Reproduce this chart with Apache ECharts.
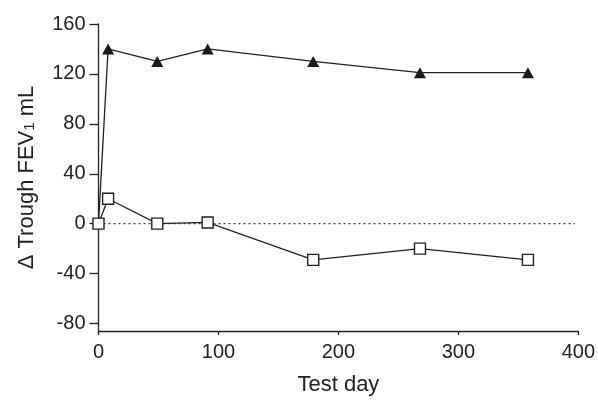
<!DOCTYPE html>
<html>
<head>
<meta charset="utf-8">
<script src="https://cdn.jsdelivr.net/npm/echarts@6/dist/echarts.min.js"></script>
<style>html,body{margin:0;padding:0;background:#fff}#c{width:598px;height:401px}</style>
</head>
<body>
<div id="c"></div>
<script>
var testDays = [0, 8, 49, 91, 179, 268, 358];
var triangleValues = [0, 140, 130, 140, 130, 121, 121];
var squareValues = [0, 20, 0, 1, -29, -20, -29];
var refLineDays = [0, 397];
var refLineValues = [0, 0];
var yTicks = [-80, -40, 0, 40, 80, 120, 160];
var xTicks = [0, 100, 200, 300, 400];

var FONT = '"Liberation Sans", Arial, sans-serif';
function pairs(xs, ys) { return xs.map(function (x, i) { return [x, ys[i]]; }); }

var chart = echarts.init(document.getElementById('c'), null, {renderer: 'canvas'});
chart.setOption({
  animation: false,
  backgroundColor: '#fff',
  grid: {left: 98.5, right: 18, top: 24, bottom: 68, containLabel: false},
  xAxis: {
    type: 'value', min: 0, max: 400, interval: 100,
    name: 'Test day', nameLocation: 'middle', nameGap: 43,
    nameTextStyle: {fontFamily: FONT, fontSize: 22, color: '#222'},
    axisLine: {show: true, onZero: false, lineStyle: {color: '#222', width: 1.3}},
    axisTick: {show: true, length: 4, lineStyle: {color: '#222', width: 1.3}},
    axisLabel: {fontFamily: FONT, fontSize: 20, color: '#222', margin: 11},
    splitLine: {show: false}
  },
  yAxis: {
    type: 'value', min: -86, max: 160,
    name: '{a|\u0394 Trough FEV}{s|1}{a| mL}', nameLocation: 'middle', nameGap: 61,
    nameTextStyle: {fontFamily: FONT, fontSize: 22, color: '#222',
      rich: {a: {fontFamily: FONT, fontSize: 22, color: '#222'},
             s: {fontFamily: FONT, fontSize: 15, color: '#222', padding: [7, 0, 0, 0]}}},
    axisLine: {show: true, onZero: false, lineStyle: {color: '#222', width: 1.3}},
    axisTick: {show: true, length: 9, customValues: yTicks, lineStyle: {color: '#222', width: 1.3}},
    axisLabel: {fontFamily: FONT, fontSize: 20, color: '#222', margin: 13, customValues: yTicks},
    splitLine: {show: false}
  },
  series: [
    {
      type: 'line', data: pairs(refLineDays, refLineValues), symbol: 'none', silent: true,
      lineStyle: {color: '#444', width: 1.4, type: [2, 3]}, z: 1
    },
    {
      type: 'line', data: pairs(testDays, triangleValues),
      symbol: function (v, p) { return p.dataIndex === 0 ? 'none' : 'triangle'; },
      symbolSize: [12, 11],
      itemStyle: {color: '#1a1a1a', borderWidth: 0},
      lineStyle: {color: '#222', width: 1.3}, z: 2
    },
    {
      type: 'line', data: pairs(testDays, squareValues),
      symbol: 'rect', symbolSize: 11,
      itemStyle: {color: '#fff', borderColor: '#222', borderWidth: 1.4},
      lineStyle: {color: '#222', width: 1.3}, z: 3
    }
  ]
});
</script>
</body>
</html>
